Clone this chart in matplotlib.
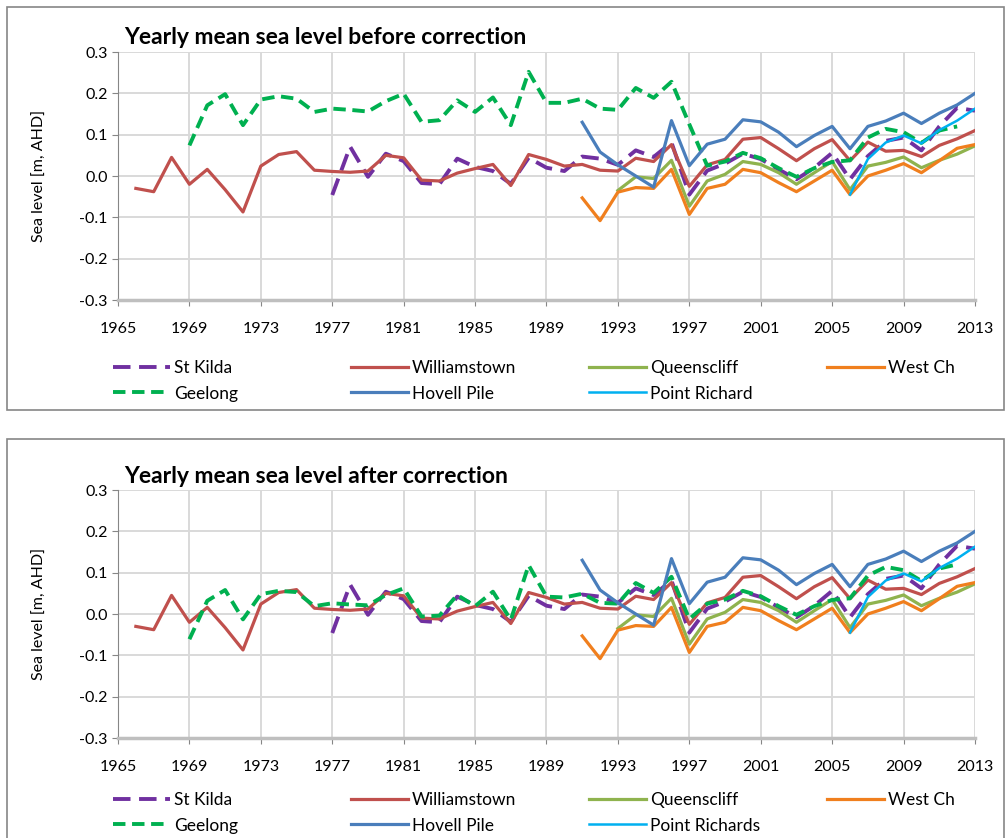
import matplotlib
matplotlib.use("Agg")
import matplotlib.pyplot as plt
from matplotlib.patches import Rectangle

plt.rcParams['font.family'] = ['Lato', 'DejaVu Sans']
plt.rcParams['axes.unicode_minus'] = False

# ---- data ----
yrs_will = list(range(1966, 2014))
williamstown = [-0.030, -0.038, 0.045, -0.020, 0.016, -0.033, -0.087, 0.024, 0.052, 0.059,
                0.014, 0.011, 0.009, 0.012, 0.050, 0.044, -0.010, -0.012, 0.007, 0.018,
                0.028, -0.023, 0.052, 0.040, 0.024, 0.028, 0.014, 0.012, 0.043, 0.035,
                0.076, -0.025, 0.027, 0.040, 0.089, 0.093, 0.066, 0.037, 0.066, 0.088,
                0.037, 0.082, 0.060, 0.062, 0.047, 0.074, 0.090, 0.110]

yrs_stk = list(range(1977, 2014))
st_kilda = [-0.046, 0.071, -0.002, 0.054, 0.036, -0.017, -0.020, 0.042, 0.022, 0.012,
            -0.019, 0.044, 0.020, 0.012, 0.047, 0.042, 0.027, 0.062, 0.046, 0.081,
            -0.045, 0.013, 0.030, 0.054, 0.041, 0.016, -0.008, 0.020, 0.056, -0.008,
            0.048, 0.085, 0.093, 0.062, 0.120, 0.165, 0.158]

yrs_geel = list(range(1969, 2013))
geelong_before = [0.074, 0.171, 0.198, 0.123, 0.185, 0.193, 0.187, 0.155, 0.163, 0.160,
                  0.156, 0.181, 0.199, 0.131, 0.135, 0.183, 0.155, 0.190, 0.123, 0.252,
                  0.177, 0.177, 0.187, 0.163, 0.160, 0.213, 0.189, 0.228, 0.125, 0.025,
                  0.035, 0.056, 0.043, 0.019, -0.002, 0.019, 0.034, 0.038, 0.093, 0.114,
                  0.106, 0.080, 0.110, 0.120]
geelong_after = [-0.061, 0.032, 0.058, -0.013, 0.048, 0.056, 0.053, 0.019, 0.026, 0.023,
                 0.021, 0.046, 0.062, -0.006, -0.004, 0.046, 0.019, 0.054, -0.014, 0.118,
                 0.042, 0.040, 0.049, 0.027, 0.025, 0.075, 0.051, 0.090, -0.012, 0.025,
                 0.035, 0.056, 0.043, 0.019, -0.002, 0.019, 0.034, 0.038, 0.093, 0.114,
                 0.106, 0.080, 0.110, 0.120]

yrs_hov = list(range(1991, 2014))
hovell = [0.130, 0.058, 0.027, 0.000, -0.027, 0.134, 0.025, 0.077, 0.089, 0.136,
          0.131, 0.106, 0.071, 0.098, 0.120, 0.066, 0.120, 0.133, 0.152, 0.127,
          0.152, 0.172, 0.200]

yrs_west = list(range(1991, 2014))
west_ch = [-0.053, -0.108, -0.039, -0.028, -0.030, 0.016, -0.093, -0.030, -0.020, 0.016,
           0.008, -0.016, -0.038, -0.012, 0.014, -0.045, 0.000, 0.014, 0.030, 0.008,
           0.037, 0.067, 0.076]

yrs_qc = list(range(1993, 2014))
queenscliff = [-0.035, -0.002, -0.006, 0.038, -0.073, -0.012, 0.004, 0.035, 0.028, 0.008,
               -0.020, 0.008, 0.035, -0.033, 0.024, 0.033, 0.046, 0.020, 0.038, 0.053,
               0.073]

yrs_pr = list(range(2006, 2014))
point_richard = [-0.045, 0.041, 0.081, 0.098, 0.079, 0.111, 0.134, 0.163]

xticks = list(range(1965, 2014, 4))
yticks = [-0.3, -0.2, -0.1, 0.0, 0.1, 0.2, 0.3]

C_STK = '#7030A0'
C_WIL = '#C0504D'
C_QC = '#8FB34E'
C_WC = '#F07F1E'
C_GEE = '#00B050'
C_HOV = '#4A7EBB'
C_PR = '#00B0F0'
GRID = '#D9D9D9'
AX = '#868686'

W, H = 1008, 838
fig = plt.figure(figsize=(W / 100, H / 100), dpi=100)

# panel borders
fig.add_artist(Rectangle((7 / W, 1 - 410 / H), 997 / W, 403 / H, transform=fig.transFigure,
                         fill=False, edgecolor=AX, linewidth=1.2))
fig.add_artist(Rectangle((7 / W, -0.01), 997 / W, 1 - 439 / H + 0.01, transform=fig.transFigure,
                         fill=False, edgecolor=AX, linewidth=1.2))


def panel(top_px, geelong, title, pr_label, legend_top_px):
    bot_px = top_px + 248
    ax = fig.add_axes([118 / W, 1 - bot_px / H, 857 / W, 248 / H])
    lw = 2.3
    l_stk, = ax.plot(yrs_stk, st_kilda, color=C_STK, lw=2.8, dashes=(4.5, 2.2), label='St Kilda')
    l_wil, = ax.plot(yrs_will, williamstown, color=C_WIL, lw=lw, label='Williamstown')
    l_qc, = ax.plot(yrs_qc, queenscliff, color=C_QC, lw=lw, label='Queenscliff')
    l_wc, = ax.plot(yrs_west, west_ch, color=C_WC, lw=lw, label='West Ch')
    l_gee, = ax.plot(yrs_geel, geelong, color=C_GEE, lw=2.8, dashes=(3.2, 1.7), label='Geelong')
    l_hov, = ax.plot(yrs_hov, hovell, color=C_HOV, lw=lw, label='Hovell Pile')
    l_pr, = ax.plot(yrs_pr, point_richard, color=C_PR, lw=1.8, label=pr_label)

    ax.set_xlim(1965, 2013)
    ax.set_ylim(-0.3, 0.3)
    ax.set_xticks(xticks)
    ax.set_yticks(yticks)
    ax.set_yticklabels(['%.1f' % v for v in yticks])
    ax.grid(True, color=GRID, linewidth=1.4)
    ax.set_axisbelow(True)
    for s in ['top', 'right']:
        ax.spines[s].set_visible(False)
    ax.spines['left'].set_color(AX)
    ax.spines['bottom'].set_color('#BFBFBF')
    ax.spines['bottom'].set_linewidth(2.5)
    ax.tick_params(axis='both', colors=AX, labelcolor='black', labelsize=11.5, length=4)
    ax.tick_params(axis='x', pad=12)
    ax.set_ylabel('Sea level [m, AHD]', fontsize=11.5)
    ax.yaxis.set_label_coords(-71 / 857, 0.5)

    fig.text(124 / W, 1 - (top_px - 14) / H, title, fontsize=16.5, fontweight='bold',
             va='center', ha='left')

    # legend: four evenly spaced columns
    cols = [[l_stk, l_gee], [l_wil, l_hov], [l_qc, l_pr], [l_wc]]
    xs = [113, 351, 589, 827]
    for hs, x in zip(cols, xs):
        fig.legend(hs, [h.get_label() for h in hs], loc='upper left',
                   bbox_to_anchor=(x / W, 1 - legend_top_px / H), frameon=False,
                   fontsize=12.5, handlelength=3.3, handletextpad=0.2,
                   borderpad=0, borderaxespad=0, labelspacing=0.55)
    return ax


panel(52, geelong_before, 'Yearly mean sea level before correction', 'Point Richard', 360)
panel(490, geelong_after, 'Yearly mean sea level after correction', 'Point Richards', 792)

fig.savefig('out.png', dpi=100)
